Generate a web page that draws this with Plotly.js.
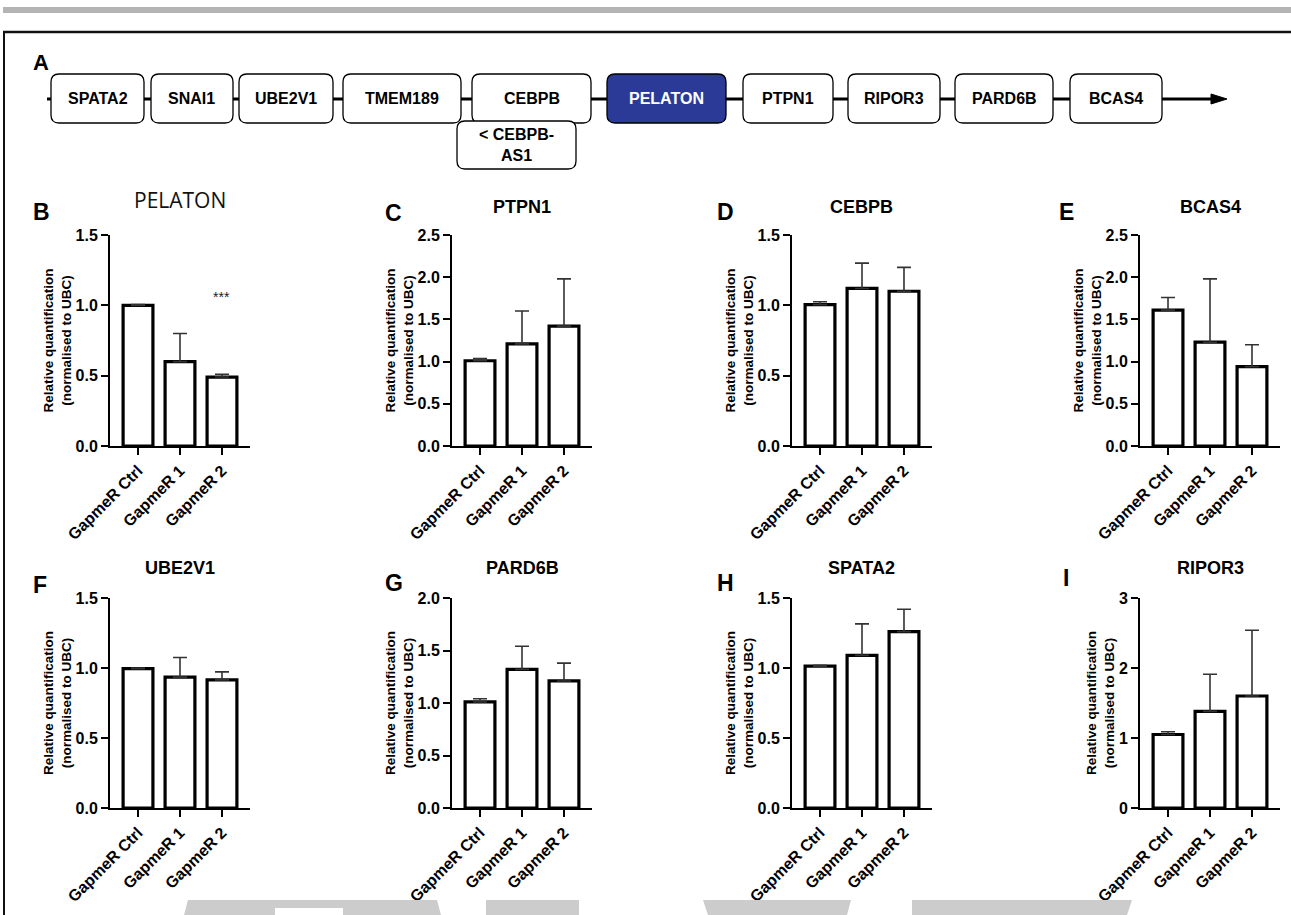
<!DOCTYPE html>
<html>
<head>
<meta charset="utf-8">
<script src="https://cdn.plot.ly/plotly-3.0.1.min.js"></script>
<style>
  html, body { margin: 0; padding: 0; background: #ffffff; }
  #chart { width: 1291px; height: 915px; }
</style>
</head>
<body>
<div id="chart"></div>
<script>
// ---------------- DATA ----------------
const categories = ['GapmeR Ctrl', 'GapmeR 1', 'GapmeR 2'];

const panelLetters = ['B', 'C', 'D', 'E', 'F', 'G', 'H', 'I'];
const panelGenes   = ['PELATON', 'PTPN1', 'CEBPB', 'BCAS4', 'UBE2V1', 'PARD6B', 'SPATA2', 'RIPOR3'];

const pelatonMean = [1.00, 0.60, 0.49];
const pelatonSem  = [0.005, 0.20, 0.02];
const ptpn1Mean   = [1.01, 1.21, 1.42];
const ptpn1Sem    = [0.025, 0.39, 0.56];
const cebpbMean   = [1.005, 1.12, 1.10];
const cebpbSem    = [0.02, 0.18, 0.17];
const bcas4Mean   = [1.61, 1.23, 0.94];
const bcas4Sem    = [0.15, 0.75, 0.26];
const ube2v1Mean  = [0.995, 0.935, 0.915];
const ube2v1Sem   = [0.005, 0.14, 0.057];
const pard6bMean  = [1.01, 1.32, 1.21];
const pard6bSem   = [0.03, 0.22, 0.17];
const spata2Mean  = [1.013, 1.09, 1.26];
const spata2Sem   = [0.007, 0.225, 0.16];
const ripor3Mean  = [1.05, 1.38, 1.60];
const ripor3Sem   = [0.04, 0.53, 0.94];

const yAxisMax   = [1.5, 2.5, 1.5, 2.5, 1.5, 2.0, 1.5, 3];
const yAxisStep  = [0.5, 0.5, 0.5, 0.5, 0.5, 0.5, 0.5, 1];

const pelatonSignif = '***';
const pelatonSignifY = 1.06;

// gene order in the locus diagram (panel A)
const locusGenes = ['SPATA2', 'SNAI1', 'UBE2V1', 'TMEM189', 'CEBPB', 'PELATON', 'PTPN1', 'RIPOR3', 'PARD6B', 'BCAS4'];
const antisenseGene = ['< CEBPB-', 'AS1'];

// ---------------- LAYOUT CONSTANTS ----------------
const W = 1291, H = 915;
const X = v => v / W;
const Y = v => 1 - v / H;
const FONT = 'Liberation Sans, Arial, Helvetica, sans-serif';

const means = [pelatonMean, ptpn1Mean, cebpbMean, bcas4Mean, ube2v1Mean, pard6bMean, spata2Mean, ripor3Mean];
const sems  = [pelatonSem, ptpn1Sem, cebpbSem, bcas4Sem, ube2v1Sem, pard6bSem, spata2Sem, ripor3Sem];

const axisLeft = [110, 452, 792, 1140];
const axisWidth = 140;
const rowTop = [235, 598];
const rowBottom = [446, 808];
const titleY = [207, 568];
const letterPos = [[41, 212], [393, 213], [725, 212], [1066, 212], [40, 585], [394, 583], [726, 583], [1066, 578]];

const locusBoxes = [[51,144],[151,233],[239,333],[343,461],[472,591],[607,726],[743,833],[848,940],[955,1053],[1070,1162]];
const locusBoxY = [74, 123];
const antisenseBox = [457, 576, 121, 169];

function rr(x0, y0, x1, y1, r) {
  return 'M' + X(x0 + r) + ',' + Y(y0) +
    ' L' + X(x1 - r) + ',' + Y(y0) +
    ' Q' + X(x1) + ',' + Y(y0) + ' ' + X(x1) + ',' + Y(y0 + r) +
    ' L' + X(x1) + ',' + Y(y1 - r) +
    ' Q' + X(x1) + ',' + Y(y1) + ' ' + X(x1 - r) + ',' + Y(y1) +
    ' L' + X(x0 + r) + ',' + Y(y1) +
    ' Q' + X(x0) + ',' + Y(y1) + ' ' + X(x0) + ',' + Y(y1 - r) +
    ' L' + X(x0) + ',' + Y(y0 + r) +
    ' Q' + X(x0) + ',' + Y(y0) + ' ' + X(x0 + r) + ',' + Y(y0) + ' Z';
}
function poly(pts) {
  return 'M' + pts.map(p => X(p[0]) + ',' + Y(p[1])).join(' L') + ' Z';
}

const traces = [];
const layout = {
  width: W, height: H,
  margin: {l: 0, r: 0, t: 0, b: 0},
  paper_bgcolor: '#ffffff',
  plot_bgcolor: 'rgba(0,0,0,0)',
  showlegend: false,
  font: {family: FONT, color: '#000'},
  shapes: [],
  annotations: []
};

for (let i = 0; i < 8; i++) {
  const row = Math.floor(i / 4), col = i % 4;
  const n = i + 1;
  const xa = 'x' + (n === 1 ? '' : n), ya = 'y' + (n === 1 ? '' : n);
  const xk = 'xaxis' + (n === 1 ? '' : n), yk = 'yaxis' + (n === 1 ? '' : n);
  traces.push({
    type: 'bar', x: categories, y: means[i], xaxis: xa, yaxis: ya,
    width: 0.71,
    marker: {color: '#ffffff', line: {color: '#000000', width: 3.2}},
    error_y: {type: 'data', symmetric: false, array: sems[i], arrayminus: [0, 0, 0],
              color: '#333333', thickness: 1.6, width: 7},
    hoverinfo: 'none'
  });
  const x0 = axisLeft[col];
  layout[xk] = {
    domain: [X(x0), X(x0 + axisWidth)],
    anchor: ya, type: 'category', range: [-0.667, 2.667],
    showline: true, linecolor: '#000', linewidth: 2,
    ticks: 'outside', ticklen: 7, tickwidth: 2, tickcolor: '#000',
    tickangle: -45, tickfont: {family: FONT, size: 16, weight: 'bold', color: '#000'},
    showgrid: false, zeroline: false, fixedrange: true
  };
  layout[yk] = {
    domain: [Y(rowBottom[row]), Y(rowTop[row])],
    anchor: xa, range: [0, yAxisMax[i]],
    tick0: 0, dtick: yAxisStep[i], tickformat: yAxisStep[i] === 1 ? 'd' : '.1f',
    showline: true, linecolor: '#000', linewidth: 2,
    ticks: 'outside', ticklen: 7, tickwidth: 2, tickcolor: '#000',
    tickfont: {family: FONT, size: 16, weight: 'bold', color: '#000'},
    showgrid: false, zeroline: false, fixedrange: true,
    title: {text: '<b>Relative quantification</b><br><b>(normalised to UBC)</b>',
            font: {family: FONT, size: 13.5, color: '#000'}}
  };
  // panel title
  const isMain = i === 0;
  layout.annotations.push({
    xref: 'paper', yref: 'paper', x: X(x0 + axisWidth / 2), y: Y(isMain ? 200 : titleY[row]),
    text: isMain ? panelGenes[i] : '<b>' + panelGenes[i] + '</b>',
    showarrow: false, xanchor: 'center', yanchor: 'middle',
    font: isMain ? {family: 'Open Sans, sans-serif', size: 21, color: '#111'} : {family: FONT, size: 18, color: '#000'}
  });
  // panel letter
  layout.annotations.push({
    xref: 'paper', yref: 'paper', x: X(letterPos[i][0]), y: Y(letterPos[i][1]),
    text: '<b>' + panelLetters[i] + '</b>', showarrow: false, xanchor: 'center', yanchor: 'middle',
    font: {family: FONT, size: 23, color: '#000'}
  });
}

// significance stars
layout.annotations.push({
  xref: 'x', yref: 'y', x: categories[2], y: pelatonSignifY, text: pelatonSignif,
  showarrow: false, yanchor: 'middle', font: {family: FONT, size: 14, color: '#222'}
});

// ---------------- PANEL A: locus diagram ----------------
layout.annotations.push({
  xref: 'paper', yref: 'paper', x: X(41), y: Y(62), text: '<b>A</b>', showarrow: false,
  xanchor: 'center', yanchor: 'middle', font: {family: FONT, size: 22, color: '#000'}
});
layout.shapes.push({type: 'line', xref: 'paper', yref: 'paper', x0: X(47), x1: X(1214), y0: Y(99), y1: Y(99),
  line: {color: '#000', width: 3}, layer: 'below'});
layout.shapes.push({type: 'path', xref: 'paper', yref: 'paper', path: poly([[1211, 94], [1227, 99], [1211, 104]]),
  fillcolor: '#000', line: {color: '#000', width: 1}});
locusGenes.forEach((g, k) => {
  const b = locusBoxes[k];
  const hi = g === 'PELATON';
  layout.shapes.push({type: 'path', xref: 'paper', yref: 'paper',
    path: rr(b[0], locusBoxY[0], b[1], locusBoxY[1], 8),
    fillcolor: hi ? '#2b3a97' : '#ffffff', line: {color: '#000', width: 1.3}});
  layout.annotations.push({xref: 'paper', yref: 'paper', x: X((b[0] + b[1]) / 2), y: Y(99),
    text: '<b>' + g + '</b>', showarrow: false, xanchor: 'center', yanchor: 'middle',
    font: {family: FONT, size: 16, color: hi ? '#ffffff' : '#000'}});
});
layout.shapes.push({type: 'path', xref: 'paper', yref: 'paper',
  path: rr(antisenseBox[0], antisenseBox[2], antisenseBox[1], antisenseBox[3], 8),
  fillcolor: '#ffffff', line: {color: '#000', width: 1.3}});
layout.annotations.push({xref: 'paper', yref: 'paper', x: X((antisenseBox[0] + antisenseBox[1]) / 2), y: Y(145),
  text: antisenseGene.map(s => '<b>' + s + '</b>').join('<br>'), showarrow: false,
  xanchor: 'center', yanchor: 'middle', font: {family: FONT, size: 16, color: '#000'}});

// ---------------- FRAME & DECORATIONS ----------------
layout.shapes.push({type: 'rect', xref: 'paper', yref: 'paper', x0: X(3), x1: X(1291), y0: Y(13), y1: Y(7),
  fillcolor: '#b4b4b4', line: {width: 0}});
layout.shapes.push({type: 'line', xref: 'paper', yref: 'paper', x0: X(3), x1: X(1291), y0: Y(32), y1: Y(32),
  line: {color: '#111', width: 2.5}});
layout.shapes.push({type: 'line', xref: 'paper', yref: 'paper', x0: X(4), x1: X(4), y0: Y(32), y1: Y(915),
  line: {color: '#111', width: 2}});
const wmGray = '#cccccc';
[
  [[188, 900], [437, 900], [441, 915], [184, 915]],
  [[486, 900], [579, 900], [579, 915], [486, 915]],
  [[703, 900], [851, 900], [847, 915], [708, 915]],
  [[912, 900], [1132, 900], [1127, 915], [912, 915]]
].forEach(p => layout.shapes.push({type: 'path', xref: 'paper', yref: 'paper', path: poly(p),
  fillcolor: wmGray, line: {width: 0}}));
layout.shapes.push({type: 'rect', xref: 'paper', yref: 'paper', x0: X(275), x1: X(343), y0: Y(915), y1: Y(908),
  fillcolor: '#ffffff', line: {width: 0}});

Plotly.newPlot('chart', traces, layout, {displayModeBar: false, staticPlot: true});
</script>
</body>
</html>
